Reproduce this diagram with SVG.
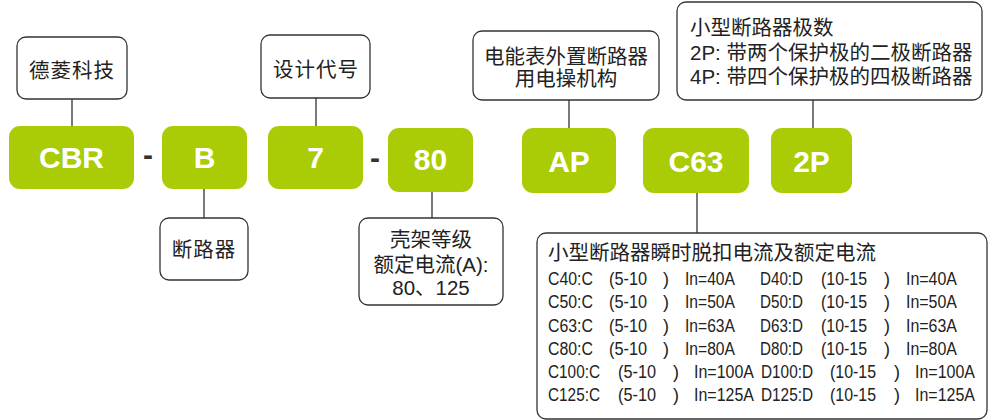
<svg xmlns="http://www.w3.org/2000/svg" width="988" height="420" viewBox="0 0 988 420">
<style>
.g{fill:#aacc06}
.gt{font-family:"Liberation Sans",Arial,sans-serif;font-weight:bold;font-size:30px;fill:#fff;text-anchor:middle}
.b{fill:#fff;stroke:#333;stroke-width:1.3}
.t{font-family:"Liberation Sans","Noto Sans CJK SC",sans-serif;font-size:20.5px;fill:#222}
.c{text-anchor:middle}
.r{font-family:"Liberation Sans","Noto Sans CJK SC",sans-serif;font-size:18px;fill:#222}
.ln{stroke:#333;stroke-width:1.3;fill:none}
.d{font-family:"Liberation Sans",Arial,sans-serif;font-weight:bold;font-size:30px;fill:#333;text-anchor:middle}
</style>
<rect width="988" height="420" fill="#fff"/>
<g id="connectors">
<line class="ln" x1="72" y1="99" x2="72" y2="126"/>
<line class="ln" x1="204" y1="189" x2="204" y2="218"/>
<line class="ln" x1="316" y1="98" x2="316" y2="126"/>
<line class="ln" x1="432" y1="192" x2="432" y2="218"/>
<line class="ln" x1="569" y1="100" x2="569" y2="128"/>
<line class="ln" x1="697" y1="193" x2="697" y2="233"/>
<line class="ln" x1="813" y1="100" x2="813" y2="128"/>
</g>
<g id="dash1"><text class="d" x="148" y="165">-</text></g>
<g id="dash2"><text class="d" x="375" y="168">-</text></g>
<g id="cbr"><rect class="g" x="9" y="126" width="125" height="63" rx="11"/><text class="gt" x="71.5" y="168">CBR</text></g>
<g id="b"><rect class="g" x="162" y="126" width="85" height="63" rx="11"/><text class="gt" x="204.5" y="168">B</text></g>
<g id="n7"><rect class="g" x="268" y="126" width="95" height="63" rx="11"/><text class="gt" x="315.5" y="168">7</text></g>
<g id="n80"><rect class="g" x="388" y="128" width="85" height="64" rx="11"/><text class="gt" x="430.5" y="170">80</text></g>
<g id="ap"><rect class="g" x="522" y="128" width="94" height="65" rx="11"/><text class="gt" x="569" y="172">AP</text></g>
<g id="c63"><rect class="g" x="643" y="128" width="106" height="65" rx="11"/><text class="gt" x="696" y="172">C63</text></g>
<g id="p2"><rect class="g" x="771" y="128" width="81" height="65" rx="11"/><text class="gt" x="811.5" y="172">2P</text></g>
<g id="brand"><rect class="b" x="17" y="37" width="110" height="62" rx="9"/><text class="t c" x="72" y="78" letter-spacing="1">德菱科技</text></g>
<g id="design"><rect class="b" x="261" y="35" width="109" height="63" rx="9"/><text class="t c" x="316" y="77" letter-spacing="1">设计代号</text></g>
<g id="breaker"><rect class="b" x="160" y="218" width="88" height="62" rx="9"/><text class="t c" x="204" y="257" letter-spacing="1">断路器</text></g>
<g id="frame"><rect class="b" x="359" y="218" width="144" height="87" rx="9"/>
<text class="t c" x="431" y="246.5">壳架等级</text>
<text class="t c" x="431" y="271.5">额定电流(A):</text>
<text class="t c" x="431" y="295">80、125</text></g>
<g id="meter"><rect class="b" x="473" y="31" width="186" height="69" rx="9"/>
<text class="t c" x="566" y="63.5">电能表外置断路器</text>
<text class="t c" x="566" y="85.5">用电操机构</text></g>
<g id="poles"><rect class="b" x="677" y="2" width="305" height="98" rx="9"/>
<text class="t" x="690" y="35">小型断路器极数</text>
<text class="t" x="690" y="59.5">2P: 带两个保护极的二极断路器</text>
<text class="t" x="690" y="84">4P: 带四个保护极的四极断路器</text></g>
<g id="table"><rect class="b" x="537" y="233" width="450" height="186" rx="9"/>
<text class="t" x="548" y="259.5" font-size="18.5">小型断路器瞬时脱扣电流及额定电流</text>
<g class="r">
<text x="548" y="285" textLength="45" lengthAdjust="spacingAndGlyphs">C40:C</text><text x="609" y="285" textLength="38" lengthAdjust="spacingAndGlyphs">(5-10</text><text x="663" y="285">)</text><text x="685" y="285" textLength="50" lengthAdjust="spacingAndGlyphs">In=40A</text><text x="760" y="285" textLength="43" lengthAdjust="spacingAndGlyphs">D40:D</text><text x="821" y="285" textLength="46" lengthAdjust="spacingAndGlyphs">(10-15</text><text x="884" y="285">)</text><text x="906" y="285" textLength="51" lengthAdjust="spacingAndGlyphs">In=40A</text>
<text x="548" y="308.3" textLength="45" lengthAdjust="spacingAndGlyphs">C50:C</text><text x="609" y="308.3" textLength="38" lengthAdjust="spacingAndGlyphs">(5-10</text><text x="663" y="308.3">)</text><text x="685" y="308.3" textLength="50" lengthAdjust="spacingAndGlyphs">In=50A</text><text x="760" y="308.3" textLength="43" lengthAdjust="spacingAndGlyphs">D50:D</text><text x="821" y="308.3" textLength="46" lengthAdjust="spacingAndGlyphs">(10-15</text><text x="884" y="308.3">)</text><text x="906" y="308.3" textLength="51" lengthAdjust="spacingAndGlyphs">In=50A</text>
<text x="548" y="331.5" textLength="45" lengthAdjust="spacingAndGlyphs">C63:C</text><text x="609" y="331.5" textLength="38" lengthAdjust="spacingAndGlyphs">(5-10</text><text x="663" y="331.5">)</text><text x="685" y="331.5" textLength="50" lengthAdjust="spacingAndGlyphs">In=63A</text><text x="760" y="331.5" textLength="43" lengthAdjust="spacingAndGlyphs">D63:D</text><text x="821" y="331.5" textLength="46" lengthAdjust="spacingAndGlyphs">(10-15</text><text x="884" y="331.5">)</text><text x="906" y="331.5" textLength="51" lengthAdjust="spacingAndGlyphs">In=63A</text>
<text x="548" y="354.5" textLength="45" lengthAdjust="spacingAndGlyphs">C80:C</text><text x="609" y="354.5" textLength="38" lengthAdjust="spacingAndGlyphs">(5-10</text><text x="663" y="354.5">)</text><text x="685" y="354.5" textLength="50" lengthAdjust="spacingAndGlyphs">In=80A</text><text x="760" y="354.5" textLength="43" lengthAdjust="spacingAndGlyphs">D80:D</text><text x="821" y="354.5" textLength="46" lengthAdjust="spacingAndGlyphs">(10-15</text><text x="884" y="354.5">)</text><text x="906" y="354.5" textLength="51" lengthAdjust="spacingAndGlyphs">In=80A</text>
<text x="548" y="377.7" textLength="52" lengthAdjust="spacingAndGlyphs">C100:C</text><text x="618" y="377.7" textLength="38" lengthAdjust="spacingAndGlyphs">(5-10</text><text x="673" y="377.7">)</text><text x="694" y="377.7" textLength="60" lengthAdjust="spacingAndGlyphs">In=100A</text><text x="761" y="377.7" textLength="52" lengthAdjust="spacingAndGlyphs">D100:D</text><text x="830" y="377.7" textLength="46" lengthAdjust="spacingAndGlyphs">(10-15</text><text x="894" y="377.7">)</text><text x="915" y="377.7" textLength="60" lengthAdjust="spacingAndGlyphs">In=100A</text>
<text x="548" y="400.8" textLength="52" lengthAdjust="spacingAndGlyphs">C125:C</text><text x="618" y="400.8" textLength="38" lengthAdjust="spacingAndGlyphs">(5-10</text><text x="673" y="400.8">)</text><text x="694" y="400.8" textLength="60" lengthAdjust="spacingAndGlyphs">In=125A</text><text x="761" y="400.8" textLength="52" lengthAdjust="spacingAndGlyphs">D125:D</text><text x="830" y="400.8" textLength="46" lengthAdjust="spacingAndGlyphs">(10-15</text><text x="894" y="400.8">)</text><text x="915" y="400.8" textLength="60" lengthAdjust="spacingAndGlyphs">In=125A</text>
</g></g>
</svg>
